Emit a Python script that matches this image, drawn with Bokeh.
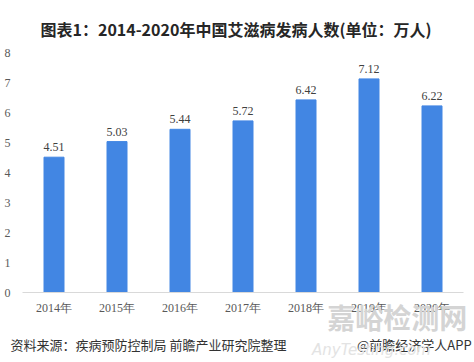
from bokeh.plotting import figure
from bokeh.models import (Range1d, ColumnDataSource, LabelSet, LinearAxis, FixedTicker)
from bokeh.embed import file_html
from bokeh.resources import INLINE

years = ["2014年", "2015年", "2016年", "2017年", "2018年", "2019年", "2020年"]
cases = [4.51, 5.03, 5.44, 5.72, 6.42, 7.12, 6.22]
value_labels = ["4.51", "5.03", "5.44", "5.72", "6.42", "7.12", "6.22"]
y_ticks = [0, 1, 2, 3, 4, 5, 6, 7, 8]

title_text = "图表1：2014-2020年中国艾滋病发病人数(单位：万人)"
source_text = "资料来源：疾病预防控制局 前瞻产业研究院整理"
brand_text = "@前瞻经济学人APP"
mark_text = "嘉峪检测网"
mark_sub = "AnyTesting.com"

# slot positions of the categories (one unit per year)
xpos = [i + 0.5 for i in range(len(years))]
src = ColumnDataSource(dict(x=xpos, y=cases, t=value_labels))

p = figure(width=474, height=362, x_range=Range1d(0, len(years)), y_range=Range1d(0, 8),
           output_backend="svg", toolbar_location=None,
           min_border_left=22, min_border_right=11, min_border_top=52, min_border_bottom=70)
p.outline_line_color = None
p.xgrid.grid_line_color = None
p.ygrid.grid_line_color = None

p.title.text = title_text
p.title.align = "left"
p.title.offset = 18
p.title.standoff = 24
p.title.text_font = "Noto Sans CJK SC"
p.title.text_font_style = "bold"
p.title.text_font_size = "16px"
p.title.text_color = "#262626"

p.vbar(x="x", top="y", width=20/63, source=src, color="#4286E3")
p.add_layout(LabelSet(x="x", y="y", text="t", source=src, text_align="center",
                      text_baseline="bottom", y_offset=6, text_font="Liberation Serif",
                      text_font_size="12px", text_color="#404040"))

p.yaxis.ticker = y_ticks
p.yaxis.axis_line_color = None
p.yaxis.major_tick_line_color = None
p.yaxis.minor_tick_line_color = None
p.yaxis.major_label_text_font = "Liberation Serif"
p.yaxis.major_label_text_font_size = "12px"
p.yaxis.major_label_text_color = "#595959"
p.yaxis.major_label_standoff = 6

p.xaxis.ticker = FixedTicker(ticks=xpos)
p.xaxis.major_label_overrides = {x: y for x, y in zip(xpos, years)}
p.xaxis.axis_line_color = "#d9d9d9"
p.xaxis.major_tick_line_color = None
p.xaxis.minor_tick_line_color = None
p.xaxis.major_label_text_font = "Liberation Serif"
p.xaxis.major_label_text_font_size = "12px"
p.xaxis.major_label_text_color = "#595959"
p.xaxis.major_label_standoff = 2

def text_row(positions, texts, standoff, **style):
    ax = LinearAxis(ticker=FixedTicker(ticks=positions),
                    major_label_overrides=dict(zip(positions, texts)),
                    axis_line_color=None, major_tick_line_color=None, minor_tick_line_color=None,
                    major_label_standoff=standoff, **style)
    p.add_layout(ax, "below")

# footer line
text_row([2.0, 6.22], [source_text, brand_text], 11,
         major_label_text_font="Noto Sans CJK SC", major_label_text_font_size="13px",
         major_label_text_color="#333333")
# overlaid site watermark
text_row([5.95], [mark_text], -66,
         major_label_text_font="Noto Sans CJK SC", major_label_text_font_style="bold",
         major_label_text_font_size="28px", major_label_text_color="#d4d4d4")
text_row([5.54], [mark_sub], -22,
         major_label_text_font="DejaVu Sans", major_label_text_font_style="italic",
         major_label_text_font_size="15px", major_label_text_color="#e3e3e3")

open("out.html", "w").write(file_html(p, INLINE))
